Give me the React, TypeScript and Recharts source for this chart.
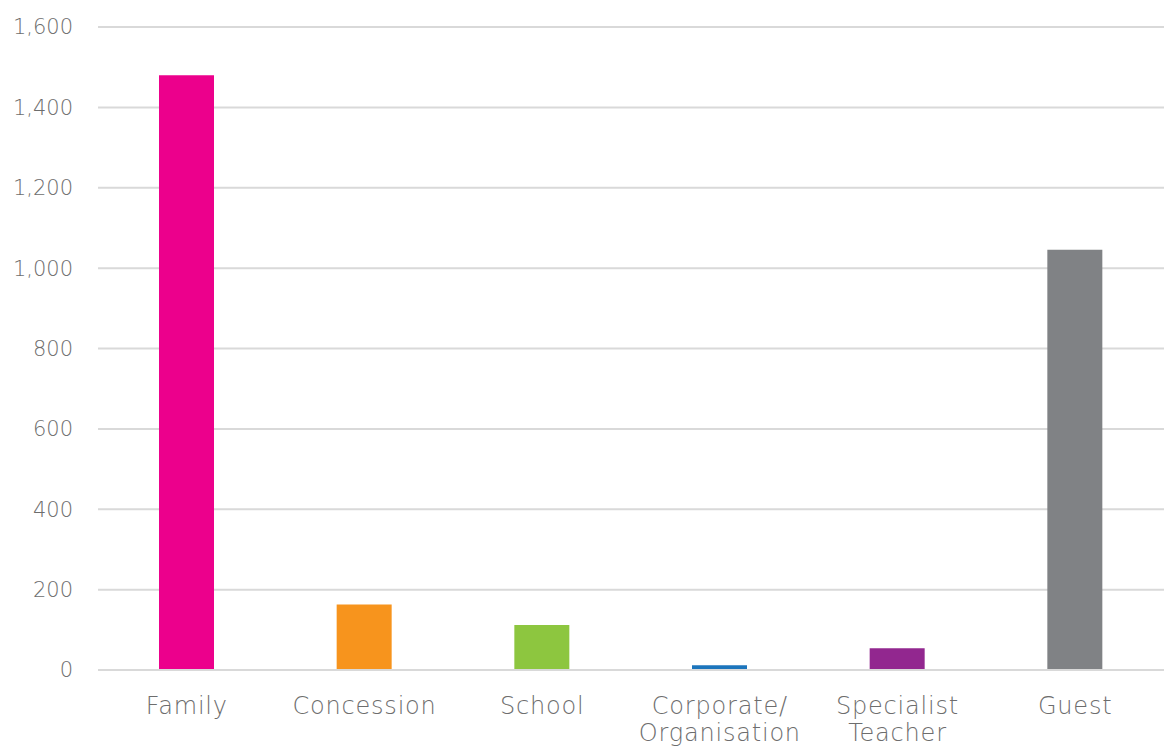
import { BarChart, Bar, XAxis, YAxis, CartesianGrid, Cell } from "recharts";

const categories = ["Family", "Concession", "School", "Corporate/\nOrganisation", "Specialist\nTeacher", "Guest"];
const members = [1480, 163, 112, 12, 54, 1046];
const barColors = ["#EC008C", "#F7941D", "#8DC63F", "#1C75BC", "#92278F", "#808285"];
const yTicks = [0, 200, 400, 600, 800, 1000, 1200, 1400, 1600];

const data = categories.map((name, i) => ({ name, value: members[i] }));

const FONT = "'DejaVu Sans', sans-serif";

function CategoryTick({ x, y, payload }: any) {
    const lines = String(payload.value).split("\n");
    return (
        <text x={x} y={y} textAnchor="middle" fill="#6d6d6d" fontFamily={FONT} fontSize={24} fontWeight={200} letterSpacing={0.8}>
            {lines.map((l: string, i: number) => (
                <tspan key={i} x={x} dy={i === 0 ? 36 : 27}>{l}</tspan>
            ))}
        </text>
    );
}

export default function App() {
    return (
        <div style={{ position: "absolute", left: 0, top: 0, width: 1164, height: 752, background: "#fff" }}>
            <BarChart width={1164} height={752} data={data} margin={{ top: 27, right: 0, bottom: 0, left: 0 }}>
                <CartesianGrid vertical={false} stroke="#d9d9d9" strokeWidth={2} />
                <XAxis
                    dataKey="name"
                    axisLine={{ stroke: "#d9d9d9", strokeWidth: 2 }}
                    tickLine={false}
                    tick={<CategoryTick />}
                    height={82}
                    interval={0}
                />
                <YAxis
                    domain={[0, 1600]}
                    ticks={yTicks}
                    width={98}
                    axisLine={false}
                    tickLine={false}
                    tickSize={0}
                    tickMargin={25}
                    tickFormatter={(v: number) => v.toLocaleString("en-US")}
                    tick={{ fill: "#6d6d6d", fontFamily: FONT, fontSize: 21, fontWeight: 200 }}
                />
                <Bar dataKey="value" barSize={55} isAnimationActive={false}>
                    {data.map((d, i) => (
                        <Cell key={d.name} fill={barColors[i]} />
                    ))}
                </Bar>
            </BarChart>
        </div>
    );
}
